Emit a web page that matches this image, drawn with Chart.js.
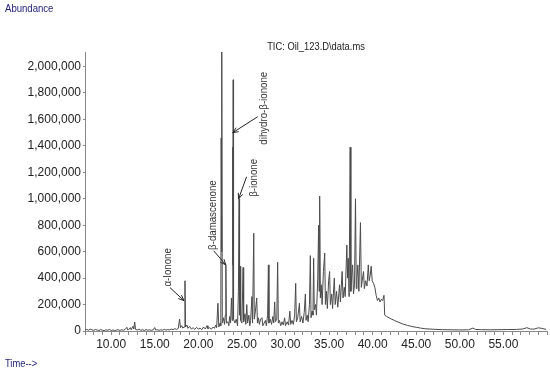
<!DOCTYPE html>
<html lang="en">
<head>
<meta charset="UTF-8" />
<title>TIC chromatogram</title>
<script src="https://cdn.jsdelivr.net/npm/chart.js"></script>
<style>
  html, body { margin: 0; padding: 0; background: #fff; }
</style>
</head>
<body>
<canvas id="tic" width="550" height="372"></canvas>
<script>
// retention time (min) and abundance - same order, 8 per line
const retentionTimes = [
  7.0, 7.2, 7.4, 7.6, 7.8, 8.0, 8.2, 8.4,
  8.6, 8.8, 9.0, 9.2, 9.4, 9.6, 9.8, 10.0,
  10.2, 10.4, 10.6, 10.8, 11.0, 11.2, 11.4, 11.6,
  11.8, 11.9, 12.0, 12.2, 12.3, 12.5, 12.6, 12.7,
  12.8, 13.0, 13.2, 13.4, 13.6, 13.8, 14.0, 14.2,
  14.4, 14.6, 14.8, 15.0, 15.1, 15.3, 15.5, 15.7,
  15.9, 16.1, 16.3, 16.5, 16.7, 16.9, 17.1, 17.3,
  17.5, 17.7, 17.85, 17.95, 18.1, 18.2, 18.38, 18.47,
  18.53, 18.7, 18.8, 19.0, 19.2, 19.4, 19.6, 19.8,
  20.0, 20.2, 20.4, 20.6, 20.8, 21.0, 21.1, 21.3,
  21.5, 21.7, 21.85, 22.0, 22.1, 22.25, 22.35, 22.5,
  22.58, 22.62, 22.67, 22.71, 22.75, 22.9, 23.0, 23.1,
  23.16, 23.22, 23.4, 23.5, 23.6, 23.7, 23.8, 23.88,
  23.94, 23.97, 24.0, 24.04, 24.2, 24.35, 24.5, 24.6,
  24.68, 24.73, 24.8, 24.86, 25.0, 25.14, 25.2, 25.35,
  25.45, 25.56, 25.65, 25.8, 25.9, 26.0, 26.15, 26.22,
  26.36, 26.42, 26.55, 26.7, 26.78, 26.9, 27.0, 27.15,
  27.3, 27.4, 27.55, 27.7, 27.8, 27.95, 28.04, 28.1,
  28.25, 28.4, 28.55, 28.65, 28.76, 28.84, 29.0, 29.1,
  29.18, 29.3, 29.45, 29.6, 29.75, 29.9, 30.0, 30.2,
  30.35, 30.5, 30.6, 30.75, 30.9, 31.05, 31.17, 31.25,
  31.4, 31.6, 31.68, 31.85, 32.0, 32.15, 32.28, 32.36,
  32.5, 32.6, 32.75, 32.85, 32.93, 33.05, 33.15, 33.23,
  33.3, 33.45, 33.55, 33.7, 33.8, 33.85, 33.92, 34.0,
  34.1, 34.2, 34.35, 34.5, 34.58, 34.7, 34.8, 34.95,
  35.06, 35.15, 35.3, 35.4, 35.6, 35.7, 35.85, 36.0,
  36.2, 36.3, 36.5, 36.6, 36.75, 36.85, 37.04, 37.12,
  37.2, 37.3, 37.42, 37.5, 37.6, 37.7, 37.8, 37.92,
  38.03, 38.12, 38.2, 38.3, 38.42, 38.6, 38.7, 38.8,
  38.95, 39.05, 39.2, 39.35, 39.5, 39.6, 39.72, 39.83,
  39.95, 40.1, 40.25, 40.4, 40.55, 40.7, 40.85, 41.0,
  41.15, 41.3, 41.38, 41.6, 42.0, 42.5, 43.0, 43.5,
  44.0, 44.5, 45.0, 45.5, 46.0, 47.0, 48.0, 49.0,
  50.0, 51.0, 51.5, 51.8, 52.5, 53.5, 54.5, 55.5,
  56.5, 57.2, 57.7, 58.1, 58.5, 59.0, 59.4, 59.9
];
const abundance = [
  8000, 12000, 6000, 14000, 9000, 5000, 11000, 7000,
  4000, 10000, 6000, 3000, 9000, 5000, 12000, 4000,
  8000, 3000, 7000, 10000, 4000, 9000, 6000, 12000,
  28000, 8000, 10000, 26000, 9000, 35000, 14000, 68000,
  12000, 8000, 14000, 5000, 9000, 4000, 11000, 6000,
  9000, 5000, 8000, 26000, 7000, 10000, 5000, 9000,
  6000, 12000, 7000, 11000, 8000, 15000, 10000, 18000,
  12000, 20000, 90000, 25000, 40000, 22000, 30000, 380000,
  30000, 45000, 20000, 35000, 15000, 25000, 12000, 28000,
  14000, 22000, 10000, 30000, 15000, 40000, 18000, 25000,
  14000, 30000, 20000, 45000, 25000, 210000, 30000, 60000,
  40000, 1460000, 600000, 2110000, 60000, 100000, 50000, 120000,
  500000, 60000, 70000, 40000, 110000, 60000, 250000, 80000,
  1390000, 500000, 1900000, 90000, 60000, 90000, 40000, 300000,
  1000000, 120000, 490000, 80000, 60000, 480000, 70000, 130000,
  50000, 200000, 60000, 120000, 40000, 80000, 260000, 60000,
  740000, 90000, 150000, 250000, 60000, 100000, 50000, 90000,
  100000, 40000, 60000, 80000, 40000, 120000, 500000, 60000,
  90000, 50000, 110000, 60000, 220000, 70000, 90000, 520000,
  60000, 80000, 40000, 70000, 45000, 100000, 40000, 70000,
  45000, 150000, 50000, 80000, 50000, 120000, 360000, 70000,
  100000, 210000, 70000, 110000, 60000, 140000, 280000, 80000,
  120000, 70000, 200000, 570000, 100000, 150000, 120000, 550000,
  160000, 200000, 120000, 400000, 800000, 300000, 1020000, 250000,
  350000, 200000, 450000, 590000, 200000, 300000, 170000, 380000,
  450000, 200000, 280000, 170000, 400000, 200000, 300000, 180000,
  350000, 220000, 450000, 250000, 330000, 260000, 650000, 400000,
  550000, 260000, 1390000, 300000, 420000, 500000, 280000, 350000,
  1000000, 320000, 400000, 500000, 300000, 820000, 330000, 380000,
  450000, 320000, 380000, 340000, 500000, 380000, 420000, 490000,
  380000, 360000, 330000, 270000, 230000, 250000, 220000, 240000,
  230000, 270000, 120000, 110000, 95000, 80000, 65000, 52000,
  42000, 34000, 28000, 22000, 17000, 13000, 10000, 9000,
  8000, 9000, 22000, 12000, 10000, 9000, 10000, 11000,
  12000, 15000, 25000, 15000, 14000, 24000, 20000, 12000
];

const yTicks = [0, 200000, 400000, 600000, 800000, 1000000, 1200000, 1400000, 1600000, 1800000, 2000000];
const xLabelled = [10, 15, 20, 25, 30, 35, 40, 45, 50, 55];

// labelled compounds: where each arrow points (time, abundance)
const peakNames = ['α-Ionone', 'β-damascenone', 'dihydro-β-ionone', 'β-ionone'];
const peakTimes = [18.35, 23.15, 23.95, 24.62];
const peakLevels = [230000, 500000, 1500000, 1000000];

// pixel offsets for the arrow tails and the rotated text (relative to the tail)
const arrowTail = [[-14, -13], [-12, -14], [25, -16], [8, -22]];
const textOffset = [[-2, -1], [-1, -1], [6, 28], [7, 20]];

if (retentionTimes.length !== abundance.length) console.error('length mismatch');

// the instrument font is narrow, squeeze Arial a bit
function narrowText(ctx, text, x, y, align, sx) {
    ctx.save();
    ctx.translate(x, y);
    ctx.scale(sx, 1);
    ctx.textAlign = align;
    ctx.fillText(text, 0, 0);
    ctx.restore();
}

const decor = {
    id: 'decor',
    afterDraw(chart) {
        const { ctx, chartArea, scales: { x, y } } = chart;
        ctx.save();

        ctx.fillStyle = '#1d1d78';
        ctx.font = '11px Arial, sans-serif';
        ctx.textBaseline = 'middle';
        narrowText(ctx, 'Abundance', 5, 9, 'left', 0.87);
        narrowText(ctx, 'Time-->', 5, 364, 'left', 0.85);

        ctx.fillStyle = '#222';
        narrowText(ctx, 'TIC: Oil_123.D\\data.ms', (chartArea.left + chartArea.right) / 2, 47, 'center', 0.85);

        ctx.strokeStyle = '#222';
        ctx.lineWidth = 1;
        peakNames.forEach((name, i) => {
            const hx = x.getPixelForValue(peakTimes[i]);
            const hy = y.getPixelForValue(peakLevels[i]);
            const tx = hx + arrowTail[i][0];
            const ty = hy + arrowTail[i][1];

            ctx.beginPath();
            ctx.moveTo(tx, ty);
            ctx.lineTo(hx, hy);
            const ang = Math.atan2(hy - ty, hx - tx);
            ctx.moveTo(hx - 6 * Math.cos(ang - 0.4), hy - 6 * Math.sin(ang - 0.4));
            ctx.lineTo(hx, hy);
            ctx.lineTo(hx - 6 * Math.cos(ang + 0.4), hy - 6 * Math.sin(ang + 0.4));
            ctx.stroke();

            ctx.save();
            ctx.translate(tx + textOffset[i][0], ty + textOffset[i][1]);
            ctx.rotate(-Math.PI / 2);
            ctx.textBaseline = 'middle';
            ctx.fillStyle = '#333';
            ctx.font = '11px Arial, sans-serif';
            narrowText(ctx, name, 0, 0, 'left', 0.88);
            ctx.restore();
        });
        ctx.restore();
    }
};

new Chart(document.getElementById('tic'), {
    type: 'line',
    data: {
        datasets: [{
            data: retentionTimes.map((t, i) => ({ x: t, y: abundance[i] })),
            borderColor: '#4a4a4a',
            borderWidth: 1,
            pointRadius: 0,
            tension: 0
        }]
    },
    options: {
        responsive: false,
        animation: false,
        layout: { padding: { top: 52, right: 3, left: 0, bottom: 0 } },
        plugins: { legend: { display: false }, tooltip: { enabled: false } },
        scales: {
            x: {
                type: 'linear',
                min: 7,
                max: 60,
                ticks: {
                    stepSize: 1,
                    autoSkip: false,
                    maxRotation: 0,
                    padding: 2,
                    color: '#222',
                    font: { family: 'Arial, sans-serif', size: 12 },
                    callback: v => xLabelled.includes(v) ? v.toFixed(2) : ''
                },
                grid: { drawOnChartArea: false, tickLength: 4, color: '#888' },
                border: { color: '#888' },
                afterFit: s => { s.height = 41; }
            },
            y: {
                min: 0,
                max: 2110000,
                afterBuildTicks: s => { s.ticks = yTicks.map(v => ({ value: v })); },
                ticks: {
                    padding: 2,
                    color: '#222',
                    font: { family: 'Arial, sans-serif', size: 12 },
                    callback: v => v.toLocaleString('en-US')
                },
                grid: { drawOnChartArea: false, tickLength: 2, color: '#888' },
                border: { color: '#888' },
                afterFit: s => { s.width = 85; }
            }
        }
    },
    plugins: [decor]
});
</script>
</body>
</html>
